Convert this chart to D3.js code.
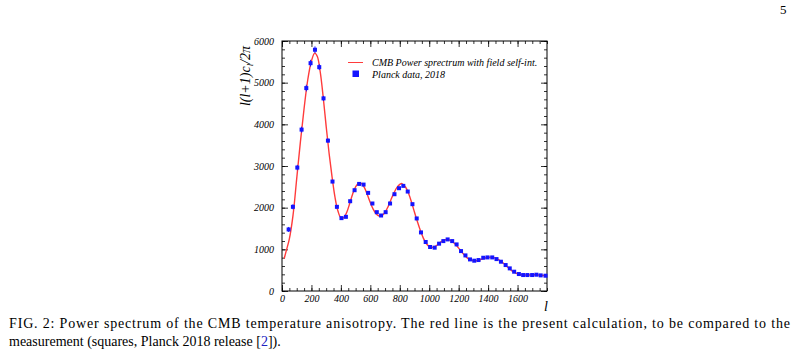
<!DOCTYPE html>
<html>
<head>
<meta charset="utf-8">
<script src="https://cdn.jsdelivr.net/npm/d3@7"></script>
<style>
  body { margin: 0; background: #fff; }
  svg { display: block; }
  .tick text { font-family: 'Liberation Serif', serif; font-style: italic; font-size: 10px; fill: #000; }
</style>
</head>
<body>
<div id="content"></div>
<script>
// Planck 2018 binned points
const dataL = [45, 74, 104, 133, 165, 194, 224, 253, 282, 312, 343, 373, 404, 434, 463, 493, 524, 554, 585, 614,
  644, 673, 704, 734, 764, 795, 824, 854, 886, 915, 944, 976, 1006, 1037, 1067, 1096, 1125, 1156, 1186, 1216,
  1246, 1277, 1306, 1335, 1367, 1396, 1428, 1457, 1487, 1519, 1547, 1577, 1609, 1638, 1667, 1699, 1728, 1757, 1790]
const dataV = [1477, 2020, 2962, 3873, 4870, 5468, 5790, 5373, 4623, 3609, 2627, 2020, 1749, 1780, 2155, 2419, 2570, 2554, 2355, 2100,
  1892, 1812, 1892, 2100, 2323, 2467, 2523, 2387, 2084, 1741, 1406, 1176, 1056, 1040, 1136, 1198, 1238, 1198, 1118, 958,
  854, 758, 727, 743, 798, 806, 806, 766, 703, 623, 543, 463, 407, 383, 383, 383, 391, 375, 367]
const dataErr = [60, 60, 65, 70, 80, 80, 80, 70, 60, 50, 40, 35, 30, 30, 30, 30, 30, 30, 25, 25,
  25, 25, 25, 25, 25, 25, 25, 25, 20, 20, 20, 20, 20, 20, 20, 20, 20, 20, 20, 20,
  20, 20, 20, 20, 20, 20, 20, 20, 20, 20, 20, 20, 20, 20, 20, 20, 20, 20, 20]

// calculated spectrum (red line)
const curveL = [15, 30, 50, 75, 100, 125, 150, 175, 200, 222, 240, 260, 280, 300, 320, 340, 360, 380, 400, 420,
  440, 460, 480, 500, 520, 540, 560, 580, 600, 620, 640, 660, 680, 700, 720, 740, 760, 780, 800, 815,
  840, 860, 880, 900, 920, 940, 960, 980, 1000, 1020, 1040, 1060, 1080, 1100, 1120, 1140, 1160, 1180, 1200, 1220,
  1240, 1260, 1280, 1300, 1320, 1340, 1360, 1380, 1400, 1420, 1440, 1460, 1480, 1500, 1520, 1540, 1560, 1580, 1600, 1620,
  1640, 1660, 1680, 1700, 1720, 1740, 1760, 1780, 1800]
const curveV = [780, 980, 1250, 1820, 2700, 3580, 4380, 5070, 5520, 5710, 5630, 5250, 4650, 3950, 3300, 2740, 2250, 1920, 1760, 1760,
  1890, 2100, 2330, 2500, 2590, 2580, 2480, 2310, 2120, 1960, 1850, 1800, 1815, 1890, 2020, 2190, 2350, 2480, 2560, 2578,
  2490, 2340, 2130, 1890, 1660, 1450, 1270, 1140, 1065, 1045, 1070, 1120, 1180, 1220, 1235, 1220, 1180, 1110, 1030, 940,
  860, 790, 745, 725, 727, 742, 768, 792, 808, 812, 800, 773, 733, 678, 615, 550, 490, 445, 412, 393,
  384, 382, 384, 388, 390, 385, 377, 371, 366]

const xTicks = [0, 200, 400, 600, 800, 1000, 1200, 1400, 1600]
const yTicks = [0, 1000, 2000, 3000, 4000, 5000, 6000]
const legendLabels = ['CMB Power sprectrum with field self-int.', 'Planck data, 2018']
const captionLine1 = 'FIG. 2: Power spectrum of the CMB temperature anisotropy. The red line is the present calculation, to be compared to the'
const captionLine2 = ['measurement (squares, Planck 2018 release [', '2', ']).']

const W = 800
const H = 359
const box = { left: 282, right: 547, top: 41, bottom: 291 }
const RED = '#ff3b3b'
const BLUE = '#1414ff'
const serif = "'Liberation Serif', 'Times New Roman', serif"

const svg = d3.select('#content').append('svg')
  .attr('width', W)
  .attr('height', H)

const x = d3.scaleLinear().domain([0, 1800]).range([box.left, box.right])
const y = d3.scaleLinear().domain([0, 6000]).range([box.bottom, box.top])

const xMinor = d3.range(0, 1801, 50)
const yMinor = d3.range(0, 6001, 200)

// axes, ticks pointing inside the frame
function ticks (axis, values, size, labels) {
  return axis.tickValues(values).tickSize(size).tickFormat(labels ? d3.format('d') : '')
}
const g = svg.append('g').attr('class', 'axes')
g.append('g').attr('transform', `translate(0,${box.bottom})`).call(ticks(d3.axisBottom(x), xMinor, -3, false))
g.append('g').attr('transform', `translate(0,${box.bottom})`).call(ticks(d3.axisBottom(x), xTicks, -6, true).tickPadding(4))
g.append('g').attr('transform', `translate(0,${box.top})`).call(ticks(d3.axisTop(x), xMinor, -3, false))
g.append('g').attr('transform', `translate(0,${box.top})`).call(ticks(d3.axisTop(x), xTicks, -6, false))
g.append('g').attr('transform', `translate(${box.left},0)`).call(ticks(d3.axisLeft(y), yMinor, -3, false))
g.append('g').attr('transform', `translate(${box.left},0)`).call(ticks(d3.axisLeft(y), yTicks, -6, true).tickPadding(8))
g.append('g').attr('transform', `translate(${box.right},0)`).call(ticks(d3.axisRight(y), yMinor, -3, false))
g.append('g').attr('transform', `translate(${box.right},0)`).call(ticks(d3.axisRight(y), yTicks, -6, false))
g.selectAll('.domain').remove()
g.selectAll('.tick line').attr('stroke', '#000').attr('stroke-width', 0.8)

svg.append('rect')
  .attr('x', box.left)
  .attr('y', box.top)
  .attr('width', box.right - box.left)
  .attr('height', box.bottom - box.top)
  .attr('fill', 'none')
  .attr('stroke', '#000')
  .attr('stroke-width', 1)

// red line
const curve = curveL.map((l, i) => ({ x: l, y: curveV[i] }))
const line = d3.line()
  .x(d => x(d.x))
  .y(d => y(d.y))
  .curve(d3.curveCatmullRom)
svg.append('path')
  .datum(curve)
  .attr('fill', 'none')
  .attr('stroke', RED)
  .attr('stroke-width', 1.4)
  .attr('d', line)

// data points with error bars
const pts = dataL.map((l, i) => ({ x: l, y: dataV[i], e: dataErr[i] }))
const pg = svg.append('g').attr('class', 'points')
pg.selectAll('line.err')
  .data(pts)
  .join('line')
  .attr('class', 'err')
  .attr('x1', d => x(d.x))
  .attr('x2', d => x(d.x))
  .attr('y1', d => y(d.y - d.e))
  .attr('y2', d => y(d.y + d.e))
  .attr('stroke', BLUE)
  .attr('stroke-width', 1)
pg.selectAll('rect')
  .data(pts)
  .join('rect')
  .attr('x', d => x(d.x) - 2)
  .attr('y', d => y(d.y) - 2)
  .attr('width', 4)
  .attr('height', 4)
  .attr('fill', BLUE)

// legend
const leg = svg.append('g').attr('font-family', serif).attr('font-style', 'italic').attr('font-size', 10)
leg.append('line')
  .attr('x1', 348).attr('x2', 363)
  .attr('y1', 62.5).attr('y2', 62.5)
  .attr('stroke', RED)
  .attr('stroke-width', 1)
leg.append('rect')
  .attr('x', 352.5).attr('y', 70.5)
  .attr('width', 6.5).attr('height', 6.5)
  .attr('fill', BLUE)
leg.selectAll('text')
  .data(legendLabels)
  .join('text')
  .attr('x', 372)
  .attr('y', (d, i) => 66 + i * 11.5)
  .text(d => d)

// axis titles
const yt = svg.append('text')
  .attr('transform', 'translate(250,76) rotate(-90)')
  .attr('text-anchor', 'middle')
  .attr('font-family', serif)
  .attr('font-style', 'italic')
  .attr('font-size', 14)
yt.append('tspan').text('l(l+1)c')
yt.append('tspan').attr('font-size', 9).attr('dy', 3).text('l')
yt.append('tspan').attr('dy', -3).text('/2π')

svg.append('text')
  .attr('x', 546)
  .attr('y', 311)
  .attr('text-anchor', 'middle')
  .attr('font-family', serif)
  .attr('font-style', 'italic')
  .attr('font-size', 14)
  .text('l')

// caption and page number
const cap = svg.append('g').attr('font-family', serif).attr('font-size', 14).attr('fill', '#000')
cap.append('text')
  .attr('x', 9).attr('y', 328)
  .attr('textLength', 781)
  .attr('lengthAdjust', 'spacing')
  .text(captionLine1)
const c2 = cap.append('text').attr('x', 9).attr('y', 346)
c2.selectAll('tspan')
  .data(captionLine2)
  .join('tspan')
  .attr('fill', (d, i) => i === 1 ? '#2020c0' : '#000')
  .text(d => d)

svg.append('text')
  .attr('x', 780).attr('y', 14)
  .attr('font-family', serif)
  .attr('font-size', 13)
  .text('5')
</script>
</body>
</html>
